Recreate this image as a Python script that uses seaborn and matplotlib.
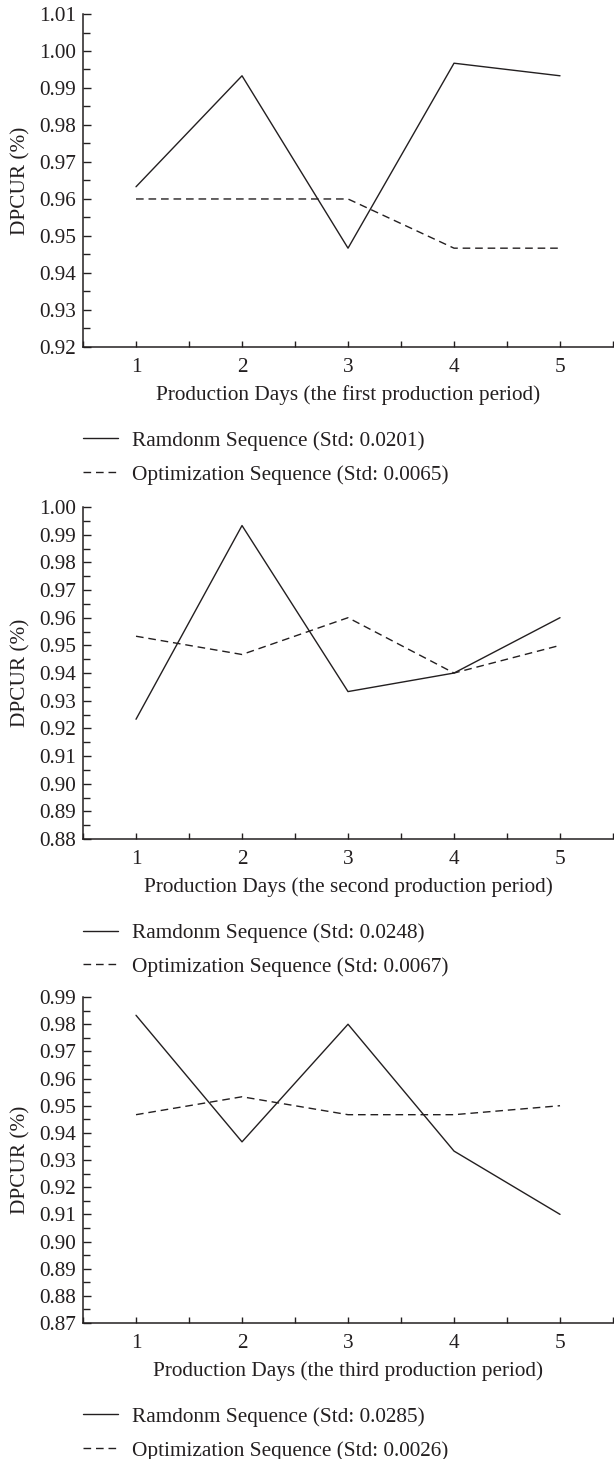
import numpy as np
import pandas as pd
import matplotlib
matplotlib.use("Agg")
import matplotlib.pyplot as plt
from matplotlib.ticker import MultipleLocator, FormatStrFormatter
import seaborn as sns

# production days
days = [1, 2, 3, 4, 5]

# first production period
rand_p1 = [0.9633, 0.9933, 0.9467, 0.9967, 0.9933]
opt_p1 = [0.9600, 0.9600, 0.9600, 0.9467, 0.9467]
# second production period
rand_p2 = [0.9233, 0.9933, 0.9333, 0.9400, 0.9600]
opt_p2 = [0.9533, 0.9467, 0.9600, 0.9400, 0.9500]
# third production period
rand_p3 = [0.9833, 0.9367, 0.9800, 0.9333, 0.9100]
opt_p3 = [0.9467, 0.9533, 0.9467, 0.9467, 0.9500]

period_names = ["first", "second", "third"]
rand_std = ["0.0201", "0.0248", "0.0285"]
opt_std = ["0.0065", "0.0067", "0.0026"]
y_limits = [(0.92, 1.01), (0.88, 1.00), (0.87, 0.99)]

INK = "#231f20"
FS = 15.3

sns.set_theme(style="ticks")
plt.rcParams["font.family"] = ["Liberation Serif", "DejaVu Serif"]
plt.rcParams["font.size"] = FS


def long_frame(rand, opt, rand_lab, opt_lab):
    '''Returns long data frame with both sequences of one period.'''
    df_r = pd.DataFrame({"day": days, "value": rand, "series": rand_lab})
    df_o = pd.DataFrame({"day": days, "value": opt, "series": opt_lab})
    return pd.concat([df_r, df_o], ignore_index=True)


def plot_period(fig, ax, df, labels, ylim, name):
    '''Returns None, draws one production period panel.'''
    sns.lineplot(data=df, x="day", y="value", style="series",
                 style_order=labels, dashes={labels[0]: "", labels[1]: (5.5, 3.5)},
                 color=INK, linewidth=1.0, ax=ax, legend=True)
    ax.set_xlim(0.5, 5.5)
    ax.set_ylim(*ylim)
    ax.xaxis.set_major_locator(MultipleLocator(1))
    ax.xaxis.set_minor_locator(MultipleLocator(0.5))
    ax.yaxis.set_major_locator(MultipleLocator(0.01))
    ax.yaxis.set_minor_locator(MultipleLocator(0.005))
    ax.yaxis.set_major_formatter(FormatStrFormatter("%.2f"))
    ax.tick_params(axis="both", which="both", direction="in", color=INK,
                   width=1.0, labelcolor=INK, labelsize=FS)
    ax.tick_params(axis="y", which="major", length=6, pad=5)
    ax.tick_params(axis="y", which="minor", length=5)
    ax.tick_params(axis="x", which="major", length=4, pad=8)
    ax.tick_params(axis="x", which="minor", length=4)
    for side in ["top", "right"]:
        ax.spines[side].set_visible(False)
    for side in ["left", "bottom"]:
        ax.spines[side].set_color(INK)
        ax.spines[side].set_linewidth(1.1)
    ax.set_xlabel("Production Days (the %s production period)" % name,
                  color=INK, fontsize=FS, labelpad=6)
    ax.set_ylabel("DPCUR (%)", color=INK, fontsize=FS, labelpad=6)
    bottom = ax.get_position().y0
    leg = ax.legend(loc="upper left", bbox_to_anchor=(83 / 614, bottom - 84 / 1459),
                    bbox_transform=fig.transFigure,
                    frameon=False, handlelength=1.65, handletextpad=0.66,
                    labelspacing=0.65, borderaxespad=0, borderpad=0,
                    fontsize=FS)
    for t in leg.get_texts():
        t.set_color(INK)


fig = plt.figure(figsize=(6.14, 14.59), dpi=100)
positions = [
    [0.1352, 0.7622, 0.8632, 0.2282],
    [0.1352, 0.4249, 0.8632, 0.2276],
    [0.1352, 0.0932, 0.8632, 0.2234],
]
rand_all = [rand_p1, rand_p2, rand_p3]
opt_all = [opt_p1, opt_p2, opt_p3]

for i in range(3):
    ax = fig.add_axes(positions[i])
    labels = ["Ramdonm Sequence (Std: %s)" % rand_std[i],
              "Optimization Sequence (Std: %s)" % opt_std[i]]
    df = long_frame(rand_all[i], opt_all[i], labels[0], labels[1])
    plot_period(fig, ax, df, labels, y_limits[i], period_names[i])

fig.savefig("out.png", dpi=100, facecolor="white")
